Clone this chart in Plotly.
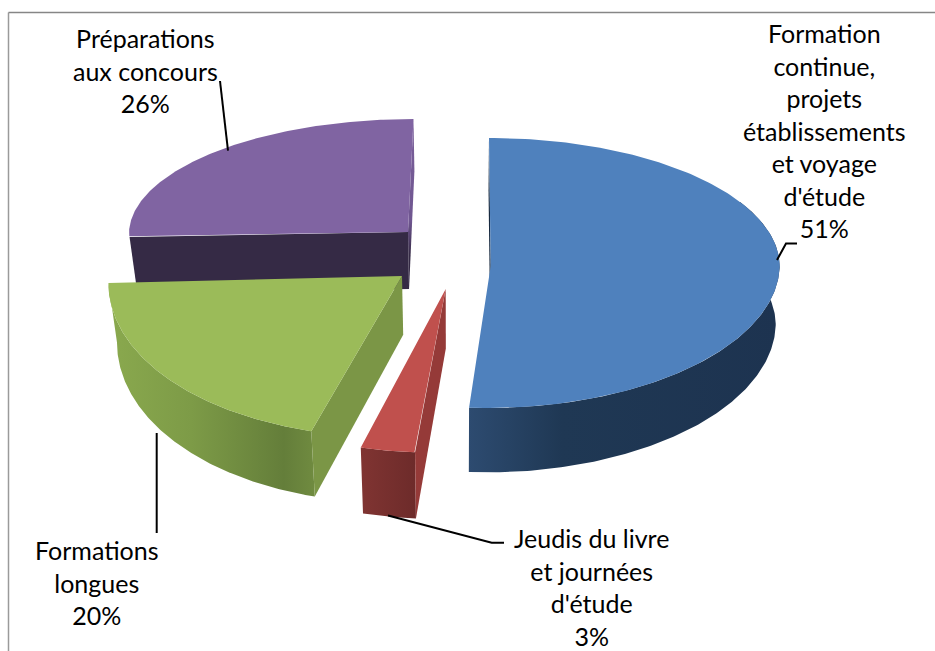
import numpy as np
import plotly.graph_objects as go

# Data, in drawing order from 12 o'clock, clockwise
categories = ["Formation<br>continue,<br>projets<br>établissements<br>et voyage<br>d'étude",
              "Jeudis du livre<br>et journées<br>d'étude",
              "Formations<br>longues",
              "Préparations<br>aux concours"]
values = [51, 3, 20, 26]

top_colors = ["#4f81bd", "#c0504d", "#9bbb59", "#8064a2"]
wall_colors = ["#17293f", "#953a38", "#7b9646", "#6a5285"]
band_scales = [
    [[0, "#2d4b70"], [0.3, "#1f3854"], [1, "#1d3350"]],
    [[0, "#803432"], [1, "#6d2b2a"]],
    [[0, "#8aa94e"], [0.4, "#7d9b47"], [0.85, "#647e3a"], [1, "#708b40"]],
    [[0, "#352a45"], [1, "#352a45"]],
]

# Per-slice view of the exploded tilted pie: apex, x radius, back/front radii, lean, tilt
views = [
    dict(ax=490.7, ay=266, rx=289, up=128, down=142, lu=-1.7, ld=3.5, tilt=0),
    dict(ax=445.7, ay=289, rx=294, up=128, down=163.6, lu=0, ld=12.2, tilt=0),
    dict(ax=402, ay=276, rx=293, up=128, down=161, lu=0, ld=18.4, tilt=3),
    dict(ax=408, ay=232, rx=279, up=113, down=80, lu=5.5, ld=0, tilt=0),
]
VANISH_X = 450


def rim(view, theta):
    t = np.radians(theta)
    s, c = np.sin(t), np.cos(t)
    x = view["ax"] + view["rx"] * s + np.where(c > 0, view["lu"], view["ld"]) * c
    y = view["ay"] - np.where(c > 0, view["up"], view["down"]) * c + view["tilt"] * s
    return x, y


def lowered(x, y):
    x, y = np.asarray(x, float), np.asarray(y, float)
    slant = np.where(x < VANISH_X, 0.025, 0.012)
    return x + (VANISH_X - x) * slant, y + 57 + (y - 232) * 0.042


def polygon(x, y, color=None, gradient=None):
    kw = dict(fillgradient=gradient) if gradient else dict(fillcolor=color)
    return go.Scatter(x=list(x), y=list(y), mode="lines", fill="toself",
                      line=dict(width=0, color="rgba(0,0,0,0)"),
                      hoverinfo="skip", showlegend=False, **kw)


def wall(view, theta, color=None, gradient=None):
    rx_, ry_ = rim(view, theta)
    bx1, by1 = lowered(view["ax"], view["ay"])
    bx2, by2 = lowered(rx_, ry_)
    return polygon([view["ax"], float(rx_), float(bx2), float(bx1)],
                   [view["ay"], float(ry_), float(by2), float(by1)], color, gradient)


starts = np.concatenate([[0], np.cumsum(values)[:-1]]) * 3.6
ends = np.cumsum(values) * 3.6
fig = go.Figure()

for i in [3, 0, 2, 1]:
    v = views[i]
    a0, a1 = float(starts[i]), float(ends[i])
    th = np.linspace(a0, a1, 180)
    x, y = rim(v, th)
    # outer side band (only the part facing the viewer)
    if i != 3:
        tb = np.linspace(max(a0, 60), a1, 180)
        bx, by = rim(v, tb)
        lx, ly = lowered(bx, by)
        fig.add_trace(polygon(np.r_[bx, lx[::-1]], np.r_[by, ly[::-1]],
                              gradient=dict(type="horizontal", colorscale=band_scales[i])))
    # inner radial walls
    if i == 3:
        fig.add_trace(wall(v, a1, gradient=dict(type="vertical", colorscale=[
            [0, "#352a45"], [0.2, "#352a45"], [0.4, "#6f5690"], [1, "#7a5f9a"]])))
        fig.add_trace(wall(v, a0, color="#352a45"))
    else:
        fig.add_trace(wall(v, a0, color=wall_colors[i]))
    # top face
    fig.add_trace(polygon(np.r_[v["ax"], x], np.r_[v["ay"], y], color=top_colors[i]))

# Leader lines
leaders = [
    ([797, 786, 777], [243.5, 243.5, 260]),
    ([504, 491.7, 388], [542.7, 542.7, 515.5]),
    ([156.7, 156.7], [533, 433]),
    ([220, 228], [81, 150.7]),
]
for lx, ly in leaders:
    fig.add_trace(go.Scatter(x=lx, y=ly, mode="lines", hoverinfo="skip", showlegend=False,
                             line=dict(color="#000000", width=2)))

# Chart frame (top and left edges are in view)
fig.add_shape(type="line", x0=8.5, x1=8.5, y0=12.5, y1=651, line=dict(color="#9a9a9a", width=1.5))
fig.add_shape(type="line", x0=8.5, x1=935, y0=12.5, y1=12.5, line=dict(color="#868686", width=1.5))

# Labels
label_pos = [(824.5, 130), (591, 587), (97, 582.5), (145, 70.5)]
for cat, val, (cx, cy) in zip(categories, values, label_pos):
    fig.add_annotation(x=cx, y=cy, text=f"{cat}<br>{val}%", showarrow=False,
                       xanchor="center", yanchor="middle", align="center",
                       font=dict(family="Lato", size=25, color="#000000"))

fig.update_layout(
    width=935, height=651, margin=dict(l=0, r=0, t=0, b=0),
    paper_bgcolor="white", plot_bgcolor="white", showlegend=False,
    xaxis=dict(range=[0, 935], visible=False, fixedrange=True),
    yaxis=dict(range=[651, 0], visible=False, fixedrange=True),
)
fig.write_html("out.html", config={"displayModeBar": False},
               post_script="document.body.style.margin='0';document.body.style.overflow='hidden';")
